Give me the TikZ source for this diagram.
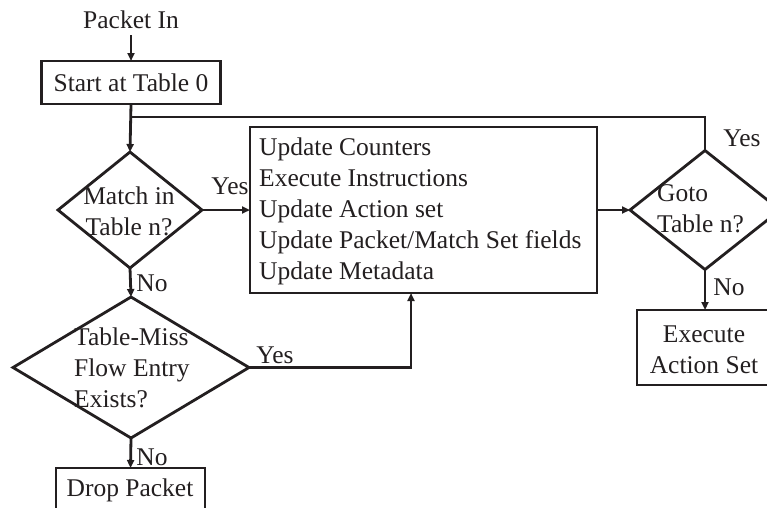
\documentclass[tikz,border=0pt]{standalone}
\usepackage{fontspec}
\setmainfont{Liberation Serif}
\usetikzlibrary{shapes.geometric,arrows.meta}
\definecolor{ink}{RGB}{35,31,32}
\begin{document}
\begin{tikzpicture}[x=1pt,y=-1pt,
  box/.style={draw=ink, line width=2.8pt, rectangle, inner sep=0pt, outer sep=0pt,
    text=ink, font=\fontsize{25.5}{31}\selectfont},
  dec/.style={draw=ink, line width=2.8pt, diamond, inner sep=0pt, outer sep=0pt},
  txt/.style={text=ink, font=\fontsize{25.5}{31}\selectfont, inner sep=0pt},
  arr/.style={draw=ink, line width=2.8pt, -{Triangle[length=8pt,width=7pt]}},
  link/.style={draw=ink, line width=2.8pt}]
\useasboundingbox (0,0) rectangle (767,507);
\clip (0,0) rectangle (767,507);

% boxes
\node[box, minimum width=179pt, minimum height=43pt] (start) at (131,82.5) {Start at Table 0};
\node[box, minimum width=347pt, minimum height=166pt] (work) at (423.5,210) {};
\node[box, minimum width=133pt, minimum height=75pt] (exec) at (703.5,347.5) {};
\node[box, minimum width=149pt, minimum height=62pt] (drop) at (130.5,499) {};

% decisions
\node[dec, minimum width=144pt, minimum height=116pt] (match) at (130,210) {};
\node[dec, minimum width=236pt, minimum height=141pt] (miss) at (131,367.5) {};
\node[dec, minimum width=150pt, minimum height=119pt] (goto) at (705,210) {};

% texts
\node[txt] (pin) at (131,20) {Packet In};
\node[txt, align=center] (mtext) at (129,211) {Match in\\Table n?};
\node[txt, align=left, anchor=west] (wtext) at (259,211)
  {Update Counters\\Execute Instructions\\Update Action set\\Update Packet/Match Set fields\\Update Metadata};
\node[txt, align=left, anchor=west] (gtext) at (657,209) {Goto\\Table n?};
\node[txt, align=center] (etext) at (704,350) {Execute\\Action Set};
\node[txt, align=left, anchor=west] (xtext) at (74,368) {Table-Miss\\Flow Entry\\Exists?};
\node[txt] (dtext) at (130,490) {Drop Packet};

% branch labels
\node[txt] (ly1) at (230,186) {Yes};
\node[txt] (ln1) at (152,283) {No};
\node[txt] (ly2) at (275,355) {Yes};
\node[txt] (ln2) at (152,457) {No};
\node[txt] (ly3) at (742,138) {Yes};
\node[txt] (ln3) at (729,287) {No};

% connectors
\coordinate (j) at (131,117);
\draw[arr] ([yshift=-6pt]pin.south) -- (start.north);
\draw[arr] (start.south) -- (match.north);
\draw[link] (goto.north) |- (j);
\draw[arr] (match.east) -- (work.west);
\draw[arr] (work.east) -- (goto.west);
\draw[arr] (match.south) -- (miss.north);
\draw[arr] (miss.east) -| ([xshift=-12.5pt]work.south);
\draw[arr] (miss.south) -- (drop.north);
\draw[arr] (goto.south) -- (goto.south |- exec.north);
\end{tikzpicture}
\end{document}
